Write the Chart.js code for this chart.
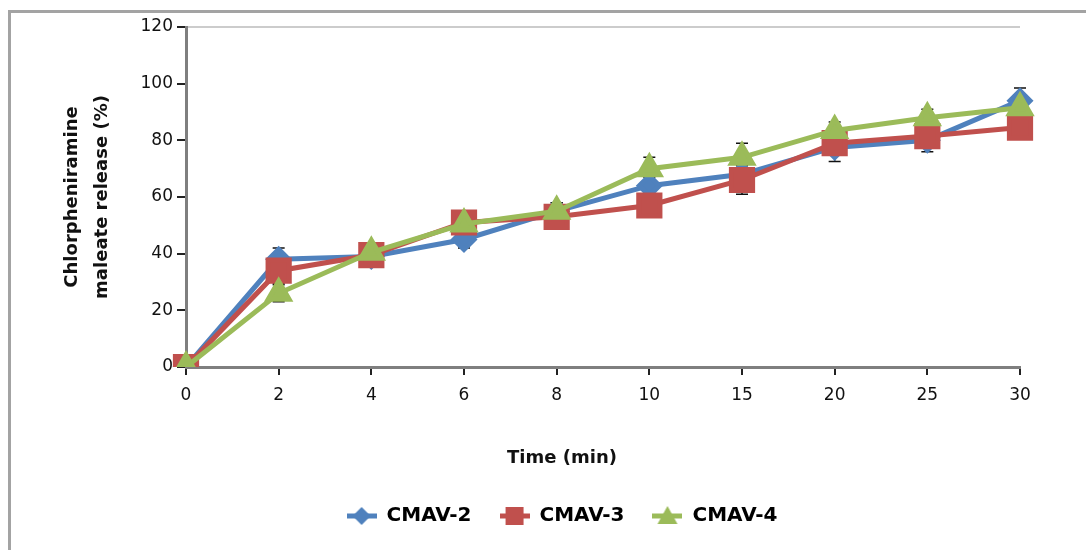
<!DOCTYPE html>
<html lang="en">
<head>
    <meta charset="UTF-8">
    <title>Chlorpheniramine maleate release</title>
    <script src="https://cdn.jsdelivr.net/npm/chart.js"></script>
    <style>
        body { margin: 0; padding: 0; background: white; overflow: hidden; }
        .frame { position: absolute; left: 8px; top: 10px; width: 1100px; height: 560px; border: 3px solid #a3a3a3; }
        .wrap { position: absolute; left: 0; top: 0; width: 1086px; height: 550px; }
    </style>
</head>
<body>
    <div class="frame"></div>
    <div class="wrap"><canvas id="releaseChart" width="1086" height="550"></canvas></div>

    <script>
        // Time points (min) and release data (%)
        const times = ["0", "2", "4", "6", "8", "10", "15", "20", "25", "30"];
        const cmav2 = [0, 38, 39, 45, 55, 64, 68, 77.5, 80, 94];
        const cmav3 = [0, 34, 39.5, 51, 53, 57, 66, 79, 81.5, 84.5];
        const cmav4 = [0, 26, 40.5, 50.5, 55, 70, 74, 83.5, 88, 91.5];
        const err2 = [0, 4, 3, 3, 3, 3, 4, 5, 4, 4.5];
        const err3 = [0, 4.5, 4, 3, 4, 3, 5, 4, 3, 3.5];
        const err4 = [0, 3, 3, 4, 3, 4, 5, 3, 3, 3];
        const yTicks = [0, 20, 40, 60, 80, 100, 120];
        const xTitle = 'Time (min)';
        const yTitle = ['Chlorpheniramine', 'maleate release (%)'];

        const blue = '#4F81BD', red = '#C0504D', green = '#9BBB59';
        const titleFont = 'bold 18px "DejaVu Sans"';

        // little line+marker picture for the legend
        function legendIcon(color, style) {
            const c = document.createElement('canvas');
            c.width = 30; c.height = 22;
            const g = c.getContext('2d');
            g.strokeStyle = color; g.lineWidth = 5;
            g.beginPath(); g.moveTo(0, 11); g.lineTo(30, 11); g.stroke();
            g.fillStyle = color;
            g.beginPath();
            if (style === 'rectRot') { g.moveTo(15, 2); g.lineTo(24, 11); g.lineTo(15, 20); g.lineTo(6, 11); }
            else if (style === 'rect') { g.rect(6, 2, 18, 18); }
            else { g.moveTo(15, 1); g.lineTo(25, 19); g.lineTo(5, 19); }
            g.fill();
            return c;
        }

        // error bars drawn under the markers
        const errorBars = {
            id: 'errorBars',
            beforeDatasetsDraw(chart) {
                const ctx = chart.ctx, y = chart.scales.y;
                ctx.save();
                ctx.strokeStyle = '#111';
                ctx.lineWidth = 1.5;
                chart.data.datasets.forEach((ds, i) => {
                    const meta = chart.getDatasetMeta(i);
                    meta.data.forEach((pt, j) => {
                        const e = ds.errors[j];
                        if (!e) return;
                        const top = y.getPixelForValue(ds.data[j] + e);
                        const bot = y.getPixelForValue(ds.data[j] - e);
                        ctx.beginPath();
                        ctx.moveTo(pt.x, top); ctx.lineTo(pt.x, bot);
                        ctx.moveTo(pt.x - 6, top); ctx.lineTo(pt.x + 6, top);
                        ctx.moveTo(pt.x - 6, bot); ctx.lineTo(pt.x + 6, bot);
                        ctx.stroke();
                    });
                });
                ctx.restore();
            }
        };

        // light top border of the plot area + axis titles (centred like the original figure)
        const decor = {
            id: 'decor',
            beforeDraw(chart) {
                const a = chart.chartArea, ctx = chart.ctx;
                ctx.save();
                ctx.strokeStyle = '#cccccc';
                ctx.lineWidth = 2;
                ctx.beginPath(); ctx.moveTo(a.left, a.top); ctx.lineTo(a.right, a.top); ctx.stroke();
                ctx.restore();
            },
            afterDraw(chart) {
                const a = chart.chartArea, ctx = chart.ctx;
                const leg = chart.legend;
                ctx.save();
                ctx.fillStyle = '#111';
                ctx.font = titleFont;
                ctx.textAlign = 'center';
                ctx.textBaseline = 'middle';
                ctx.fillText(xTitle, (leg.left + leg.right) / 2, a.bottom + 91);
                ctx.translate(87, (a.top + a.bottom) / 2);
                ctx.rotate(-Math.PI / 2);
                ctx.fillText(yTitle[0], 0, -15);
                ctx.fillText(yTitle[1], 0, 15);
                ctx.restore();
            }
        };

        const ctx = document.getElementById('releaseChart').getContext('2d');
        new Chart(ctx, {
            type: 'line',
            data: {
                labels: times,
                datasets: [
                    { label: 'CMAV-2', data: cmav2, errors: err2, order: 3, borderColor: blue, backgroundColor: blue, borderWidth: 5,
                      pointStyle: 'rectRot', pointRadius: 10, pointHoverRadius: 10, icon: legendIcon(blue, 'rectRot') },
                    { label: 'CMAV-3', data: cmav3, errors: err3, order: 2, borderColor: red, backgroundColor: red, borderWidth: 5,
                      pointStyle: 'rect', pointRadius: 15, pointHoverRadius: 15, icon: legendIcon(red, 'rect') },
                    { label: 'CMAV-4', data: cmav4, errors: err4, order: 1, borderColor: green, backgroundColor: green, borderWidth: 5,
                      pointStyle: 'triangle', pointRadius: 12, pointHoverRadius: 12, icon: legendIcon(green, 'triangle') }
                ]
            },
            options: {
                responsive: false,
                animation: false,
                layout: { padding: { left: 104, right: 66, top: 27, bottom: 14 } },
                plugins: {
                    tooltip: { enabled: false },
                    legend: {
                        position: 'bottom',
                        labels: {
                            usePointStyle: true,
                            pointStyleWidth: 30,
                            boxHeight: 18,
                            padding: 28,
                            color: '#111',
                            font: { family: 'DejaVu Sans', size: 20, weight: 'bold' },
                            generateLabels(chart) {
                                return chart.data.datasets.map((ds, i) => ({
                                    text: ds.label, pointStyle: ds.icon, fillStyle: ds.borderColor,
                                    strokeStyle: ds.borderColor, lineWidth: 0, datasetIndex: i, hidden: false
                                }));
                            }
                        }
                    }
                },
                scales: {
                    x: {
                        offset: false,
                        afterFit: s => { s.height = 111; },
                        grid: { drawOnChartArea: false, drawTicks: true, tickLength: 8, color: '#222', lineWidth: 2 },
                        border: { color: '#7f7f7f', width: 3 },
                        ticks: { color: '#111', padding: 10, font: { family: 'DejaVu Sans', size: 17 } }
                    },
                    y: {
                        min: 0, max: 120,
                        afterFit: s => { s.width = 82; },
                        afterBuildTicks: s => { s.ticks = yTicks.map(v => ({ value: v })); },
                        grid: { drawOnChartArea: false, drawTicks: true, tickLength: 9, color: '#222', lineWidth: 2 },
                        border: { color: '#7f7f7f', width: 3 },
                        ticks: { color: '#111', padding: 4, font: { family: 'DejaVu Sans', size: 17 } }
                    }
                }
            },
            plugins: [decor, errorBars]
        });
    </script>
</body>
</html>
